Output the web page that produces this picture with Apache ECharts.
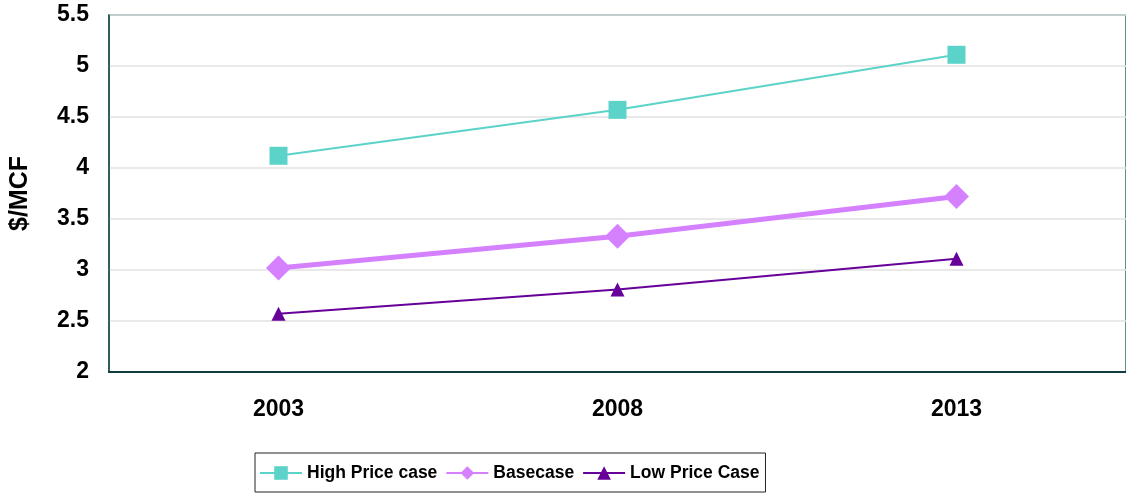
<!DOCTYPE html>
<html>
<head>
<meta charset="utf-8">
<script src="https://cdn.jsdelivr.net/npm/echarts@6/dist/echarts.min.js"></script>
<style>
  html, body { margin: 0; padding: 0; background: #fff; }
  #chart { width: 1126px; height: 495px; }
</style>
</head>
<body>
<div id="chart"></div>
<script>
// Natural gas price outlook ($/MCF) by scenario
const years = ['2003', '2008', '2013'];
const highPrice = [4.12, 4.57, 5.11];
const baseCase = [3.02, 3.33, 3.72];
const lowPrice = [2.57, 2.81, 3.11];
const seriesNames = ['High Price case', 'Basecase', 'Low Price Case'];

const font = '"Liberation Sans", Arial, sans-serif';
const chart = echarts.init(document.getElementById('chart'));

chart.setOption({
  animation: false,
  backgroundColor: '#fff',
  grid: {
    left: 108, top: 15, right: -2, bottom: 123,
    show: true, borderColor: '#2b6b6b', borderWidth: 1.5, backgroundColor: 'transparent'
  },
  legend: {
    left: 255, top: 453,
    padding: [11, 6, 10, 4],
    itemGap: 8,
    itemWidth: 42, itemHeight: 17,
    borderColor: '#222', borderWidth: 1,
    textStyle: { fontFamily: font, fontSize: 17.5, fontWeight: 'bold', color: '#000' },
    data: seriesNames
  },
  xAxis: {
    type: 'category',
    data: years,
    boundaryGap: true,
    axisLine: { show: true, lineStyle: { color: '#123c3c', width: 2 } },
    axisTick: { show: false },
    axisLabel: { margin: 26, fontFamily: font, fontSize: 23, fontWeight: 'bold', color: '#000' }
  },
  yAxis: {
    type: 'value',
    min: 2, max: 5.5, interval: 0.5,
    name: '$/MCF',
    nameLocation: 'middle',
    nameRotate: 90,
    nameGap: 76,
    nameTextStyle: { fontFamily: font, fontSize: 25, fontWeight: 'bold', color: '#000' },
    axisLine: { show: true, lineStyle: { color: '#1e4e4e', width: 1.5 } },
    axisTick: { show: false },
    splitLine: { show: true, lineStyle: { color: '#e2e2e2', width: 1.5 } },
    axisLabel: { margin: 20, fontFamily: font, fontSize: 23, fontWeight: 'bold', color: '#000' }
  },
  series: [
    {
      name: seriesNames[0], type: 'line', data: highPrice,
      symbol: 'rect', symbolSize: 18,
      lineStyle: { color: '#5cd3c8', width: 2 },
      itemStyle: { color: '#5cd3c8' }
    },
    {
      name: seriesNames[1], type: 'line', data: baseCase,
      symbol: 'diamond', symbolSize: 25,
      lineStyle: { color: '#d580ff', width: 5 },
      itemStyle: { color: '#d580ff' }
    },
    {
      name: seriesNames[2], type: 'line', data: lowPrice,
      symbol: 'triangle', symbolSize: 14,
      lineStyle: { color: '#660099', width: 2 },
      itemStyle: { color: '#660099' }
    }
  ]
});
</script>
</body>
</html>
